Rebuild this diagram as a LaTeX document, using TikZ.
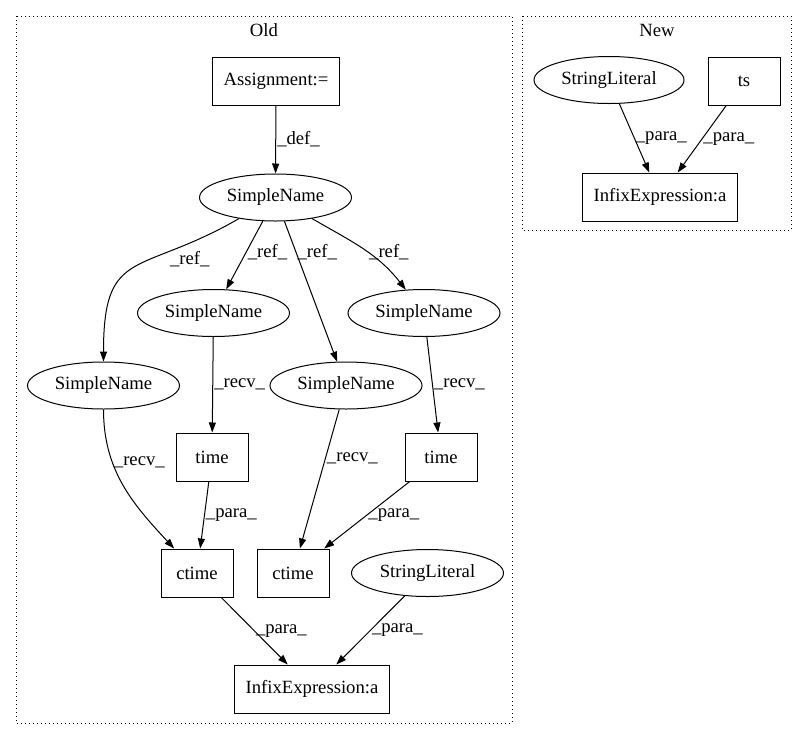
\documentclass[tikz,border=0pt]{standalone}
\usepackage{fontspec}
\setmainfont{Liberation Serif}
\usetikzlibrary{arrows.meta,shapes.geometric}
\begin{document}
\begin{tikzpicture}[x=1pt,y=-1pt,
  font=\fontsize{18.67}{22}\selectfont,
  box/.style={draw,rectangle,minimum width=72pt,minimum height=48pt,inner xsep=11pt,line width=1pt},
  ell/.style={draw,ellipse,minimum width=152pt,minimum height=47pt,inner sep=0pt,line width=1pt},
  e/.style={line width=1pt,-{Triangle[length=10pt,width=7pt]}},
  lbl/.style={right,inner sep=1pt}]
\useasboundingbox (0,0) rectangle (807,740);
% clusters
\draw[dash pattern=on 1.2pt off 2.8pt,line width=1pt] (16,16) rectangle (512,723);
\draw[dash pattern=on 1.2pt off 2.8pt,line width=1pt] (522,16) rectangle (791,230);
\node at (264,30) {Old};
\node at (657,30) {New};
% old
\node[box] (asg) at (276,81) {Assignment:=};
\node[ell] (sn) at (275.5,197.5) {SimpleName};
\node[ell] (sna) at (213.5,313) {SimpleName};
\node[ell] (snb) at (424,313) {SimpleName};
\node[ell] (snc) at (103.5,385.5) {SimpleName};
\node[ell] (snd) at (346,385.5) {SimpleName};
\node[box] (tma) at (212,457) {time};
\node[box] (tmb) at (441,457) {time};
\node[box] (cta) at (197,573) {ctime};
\node[box] (ctb) at (293,573) {ctime};
\node[ell] (sl) at (427.5,573) {StringLiteral};
\node[box] (inf) at (312,689) {InfixExpression:a};
\draw[e] (asg) to node[lbl] {\_def\_} (sn);
\draw[e] (sn) to[out=-150,in=90,looseness=1.5] node[lbl,pos=0.3,xshift=3pt,yshift=-6pt] {\_ref\_} (snc);
\draw[e] (sn) to node[lbl,pos=0.45] {\_ref\_} (sna);
\draw[e] (sn) to node[lbl,pos=0.22] {\_ref\_} (snd);
\draw[e] (sn) to[out=-30,in=128] node[lbl,pos=0.55] {\_ref\_} (snb);
\draw[e] (sna) to node[lbl] {\_recv\_} (tma);
\draw[e] (snb) to node[lbl] {\_recv\_} (tmb);
\draw[e] (snc) to[out=-90,in=133] node[lbl,pos=0.33] {\_recv\_} (cta);
\draw[e] (snd) to node[lbl,pos=0.35] {\_recv\_} (ctb);
\draw[e] (tma) to node[lbl] {\_para\_} (cta);
\draw[e] (tmb) to node[lbl] {\_para\_} (ctb);
\draw[e] (cta) to node[lbl] {\_para\_} (inf);
\draw[e] (sl) to node[lbl] {\_para\_} (inf);
% new
\node[ell,minimum width=150pt] (nsl) at (609,80) {StringLiteral};
\node[box] (ts) at (744,81) {ts};
\node[box] (ninf) at (660,197) {InfixExpression:a};
\draw[e] (nsl) to node[lbl] {\_para\_} (ninf);
\draw[e] (ts) to node[lbl] {\_para\_} (ninf);
\end{tikzpicture}
\end{document}
